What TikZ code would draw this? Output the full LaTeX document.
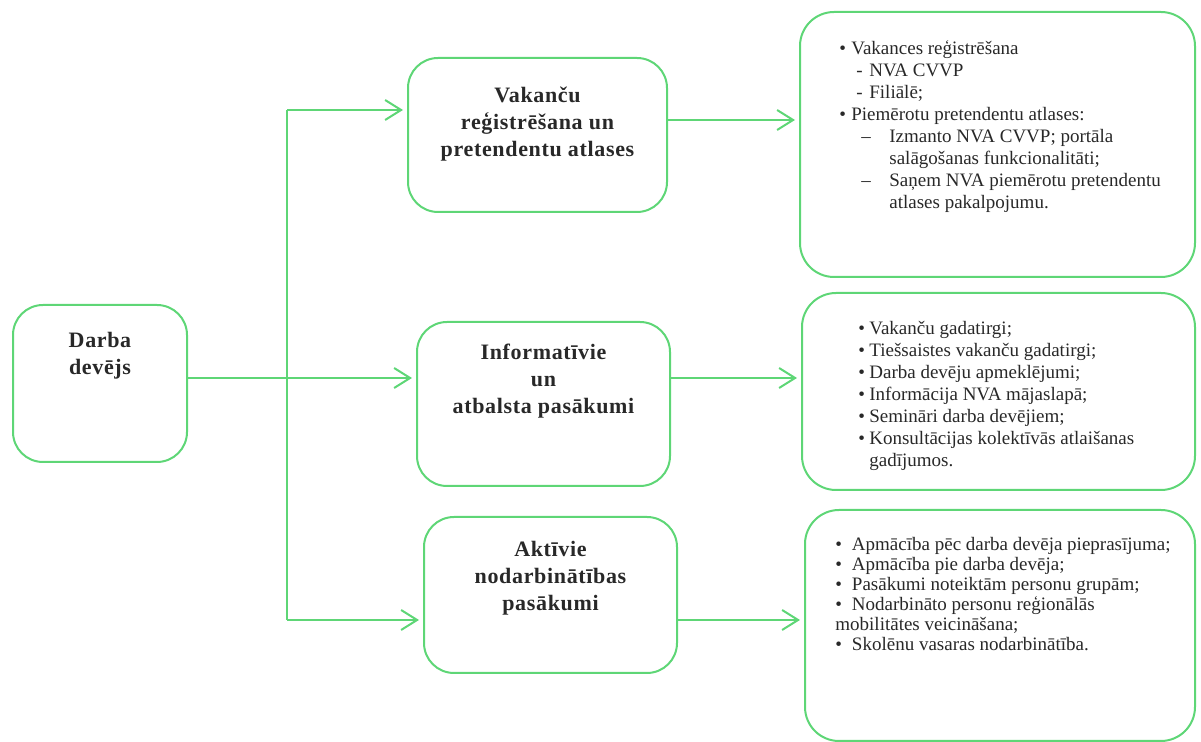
\documentclass[tikz,border=0pt]{standalone}
\usepackage{fontspec}
\setmainfont{Liberation Serif}
\newfontfamily\titlefont[LetterSpace=3]{Liberation Serif}
\usetikzlibrary{arrows.meta,positioning}

\definecolor{boxcolor}{RGB}{94,214,118}
\definecolor{textcolor}{RGB}{40,40,40}

\begin{document}
\begin{tikzpicture}[x=0.5pt, y=-0.5pt,
    box/.style={draw=boxcolor, line width=1pt, rounded corners=15pt, inner sep=0pt},
    title/.style={font=\titlefont\bfseries\fontsize{11}{13.5}\selectfont, text=textcolor, align=center, inner sep=0pt},
    list/.style={font=\fontsize{9.5}{11}\selectfont, text=textcolor, align=left, inner sep=0pt},
    link/.style={draw=boxcolor, line width=1pt},
    arrowlink/.style={link, shorten >=2pt, -{Straight Barb[length=8pt, width=10pt, line width=1pt]}}]
      \useasboundingbox (0,0) rectangle (1201,742);

      % Draw the boxes
      \node[box, minimum width=87pt, minimum height=78.5pt] (darba) at (100,383.5) {};
      \node[box, minimum width=129.5pt, minimum height=77pt] (vak) at (537.5,135) {};
      \node[box, minimum width=126.5pt, minimum height=82pt] (info) at (543.5,404) {};
      \node[box, minimum width=126.5pt, minimum height=78pt] (akt) at (550.5,595) {};
      \node[box, rounded corners=17pt, minimum width=197.5pt, minimum height=132.5pt] (vaklist) at (997.5,144.5) {};
      \node[box, rounded corners=17pt, minimum width=196.5pt, minimum height=98.5pt] (infolist) at (998.5,391.5) {};
      \node[box, rounded corners=17pt, minimum width=195pt, minimum height=115.5pt] (aktlist) at (1000,625.5) {};

      % Box titles
      \node[title, below=14pt of darba.north] (darbatext) {Darba\\devējs};
      \node[title, below=15pt of vak.north] (vaktext) {Vakanču\\reģistrēšana un\\pretendentu atlases};
      \node[title, below=11.5pt of info.north] (infotext) {Informatīvie\\un\\atbalsta pasākumi};
      \node[title, below=12.5pt of akt.north] (akttext) {Aktīvie\\nodarbinātības\\pasākumi};

      % Lists on the right
      \node[list, below right=14.5pt and 20pt of vaklist.north west] (vakitems) {%
        \makebox[6pt][l]{\textbullet}Vakances reģistrēšana\\
        \hspace*{8.5pt}\makebox[6.5pt][l]{-}NVA CVVP\\
        \hspace*{8.5pt}\makebox[6.5pt][l]{-}Filiālē;\\
        \makebox[6pt][l]{\textbullet}Piemērotu pretendentu atlases:\\
        \hspace*{11pt}\makebox[14pt][l]{--}Izmanto NVA CVVP; portāla\\
        \hspace*{25pt}salāgošanas funkcionalitāti;\\
        \hspace*{11pt}\makebox[14pt][l]{--}Saņem NVA piemērotu pretendentu\\
        \hspace*{25pt}atlases pakalpojumu.};
      \node[list, below right=14.5pt and 28.5pt of infolist.north west] (infoitems) {%
        \makebox[5.5pt][l]{\textbullet}Vakanču gadatirgi;\\
        \makebox[5.5pt][l]{\textbullet}Tiešsaistes vakanču gadatirgi;\\
        \makebox[5.5pt][l]{\textbullet}Darba devēju apmeklējumi;\\
        \makebox[5.5pt][l]{\textbullet}Informācija NVA mājaslapā;\\
        \makebox[5.5pt][l]{\textbullet}Semināri darba devējiem;\\
        \makebox[5.5pt][l]{\textbullet}Konsultācijas kolektīvās atlaišanas\\
        \hspace*{5.5pt}gadījumos.};
      \node[list, font=\fontsize{9.5}{10}\selectfont, below right=14pt and 15.5pt of aktlist.north west] (aktitems) {%
        \makebox[8.3pt][l]{\textbullet}Apmācība pēc darba devēja pieprasījuma;\\
        \makebox[8.3pt][l]{\textbullet}Apmācība pie darba devēja;\\
        \makebox[8.3pt][l]{\textbullet}Pasākumi noteiktām personu grupām;\\
        \makebox[8.3pt][l]{\textbullet}Nodarbināto personu reģionālās\\
        mobilitātes veicināšana;\\
        \makebox[8.3pt][l]{\textbullet}Skolēnu vasaras nodarbinātība.};

      % Branch points of the connectors
      \coordinate (split) at (287,378);
      \coordinate (top) at (287,110);
      \coordinate (bottom) at (287,620);
      \coordinate (vakout) at (667,120);

      % Draw the connectors
      \draw[link] (top) -- (bottom);
      \draw[arrowlink] (darba.east |- split) -- (info.west |- split);
      \draw[arrowlink] (top) -- (vak.west |- top);
      \draw[arrowlink] (bottom) -- (akt.west |- bottom);
      \draw[arrowlink] (vak.east |- vakout) -- (vaklist.west |- vakout);
      \draw[arrowlink] (info.east |- split) -- (infolist.west |- split);
      \draw[arrowlink] (akt.east |- bottom) -- (aktlist.west |- bottom);
    \end{tikzpicture}
\end{document}
